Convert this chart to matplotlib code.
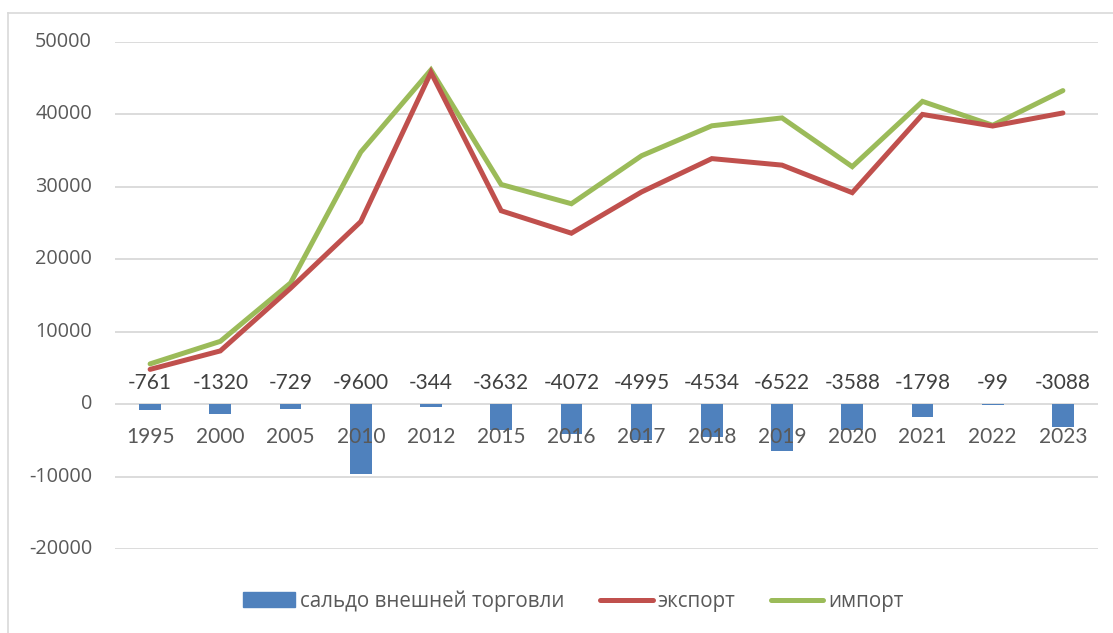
import matplotlib
matplotlib.use("Agg")
import matplotlib.pyplot as plt
import numpy as np
from matplotlib.lines import Line2D
from matplotlib.patches import Patch

years = ["1995", "2000", "2005", "2010", "2012", "2015", "2016", "2017",
         "2018", "2019", "2020", "2021", "2022", "2023"]
saldo = [-761, -1320, -729, -9600, -344, -3632, -4072, -4995, -4534, -6522,
         -3588, -1798, -99, -3088]
export = [4800, 7350, 16000, 25200, 45800, 26700, 23600, 29300, 33900, 33000,
          29200, 40000, 38400, 40200]
imports = [5560, 8670, 16730, 34800, 46150, 30330, 27670, 34300, 38430, 39520,
           32790, 41800, 38500, 43290]
yticks = [-20000, -10000, 0, 10000, 20000, 30000, 40000, 50000]

labels = ["сальдо внешней торговли", "экспорт", "импорт"]
c_bar, c_exp, c_imp = "#4F81BD", "#C0504D", "#9BBB59"
grid_c = "#D9D9D9"
txt_c = "#595959"
yfont = "Open Sans"
nfont = ["Lato", "Open Sans"]

W, H = 1113, 633
fig = plt.figure(figsize=(W / 100, H / 100), dpi=100)
ax = fig.add_axes([115 / W, 1 - 549 / H, (1098 - 115) / W, (549 - 42) / H])

x = np.arange(len(years))
ax.set_xlim(-0.5, len(years) - 0.5)
ax.set_ylim(-20000, 50000)
ax.set_yticks([])
ax.set_xticks([])
for v in yticks:
    ax.axhline(v, color=grid_c, lw=1.3, zorder=0)
    ax.annotate(str(v), (0, v), xycoords=("axes fraction", "data"),
                xytext=(-16.5, 0), textcoords="offset points",
                ha="right", va="center", fontsize=14.3, color=txt_c, family=yfont)
for s in ax.spines.values():
    s.set_visible(False)

ax.bar(x, saldo, width=0.31, color=c_bar, zorder=2)
ax.plot(x, export, color=c_exp, lw=3.6, zorder=4, solid_capstyle="round", solid_joinstyle="miter")
ax.plot(x, imports, color=c_imp, lw=3.6, zorder=3, solid_capstyle="round", solid_joinstyle="miter")

for xi, yr, s in zip(x, years, saldo):
    ax.annotate(yr, (xi, 0), xytext=(0, -23.5), textcoords="offset points",
                ha="center", va="center", fontsize=15, color=txt_c, family=nfont, zorder=5)
    ax.annotate(str(s), (xi, 0), xytext=(0, 15), textcoords="offset points",
                ha="center", va="center", fontsize=15, color="#404040", family=nfont, zorder=5)

handles = [Patch(color=c_bar), Line2D([], [], color=c_exp, lw=3.6, solid_capstyle="round"),
           Line2D([], [], color=c_imp, lw=3.6, solid_capstyle="round")]
leg = fig.legend(handles, labels, loc="center", bbox_to_anchor=(573 / W, 1 - 601 / H),
                 ncol=3, frameon=False, prop={"family": yfont, "size": 14.8},
                 handlelength=2.55, handletextpad=0.22, columnspacing=1.75,
                 handleheight=0.68)
for t in leg.get_texts():
    t.set_color(txt_c)

# chart border
fig.add_artist(plt.Line2D([7.5 / W, 7.5 / W], [0, 1 - 13 / H], transform=fig.transFigure,
                          color=grid_c, lw=1.2))
fig.add_artist(plt.Line2D([7.5 / W, 1], [1 - 13 / H, 1 - 13 / H], transform=fig.transFigure,
                          color=grid_c, lw=1.2))

fig.savefig("out.png", dpi=100)
